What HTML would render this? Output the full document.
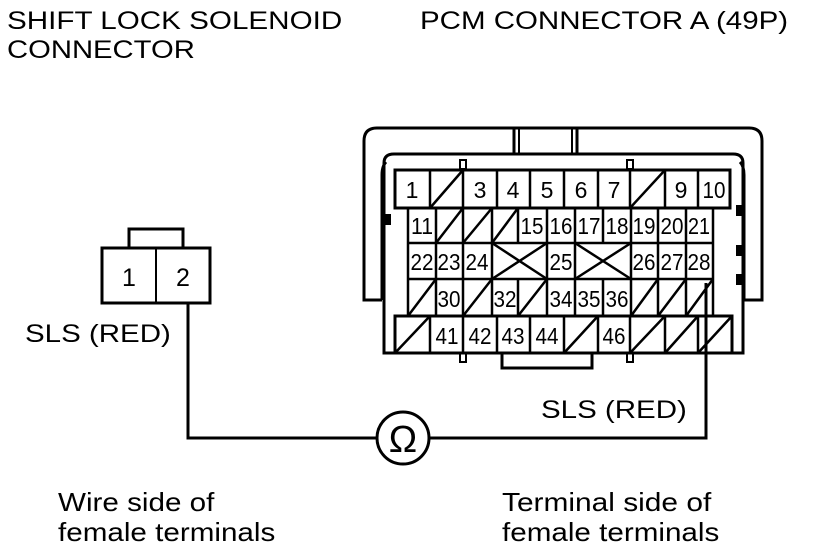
<!DOCTYPE html>
<html><head><meta charset="utf-8"><style>
html,body{margin:0;padding:0;background:#fff;}
svg{display:block;}
text{font-family:"Liberation Sans",sans-serif;fill:#000;}
.num{font-size:23px;text-anchor:middle;}
</style></head><body>
<svg width="816" height="548" viewBox="0 0 816 548" xmlns="http://www.w3.org/2000/svg">
<text transform="translate(7,29) scale(1.185,1)" style="font-size:25px">SHIFT LOCK SOLENOID</text>
<text transform="translate(7,58) scale(1.17,1)" style="font-size:25px">CONNECTOR</text>
<text transform="translate(420,29) scale(1.18,1)" style="font-size:25px">PCM CONNECTOR A (49P)</text>

<g fill="none" stroke="#000" stroke-width="3">
<rect x="129" y="229" width="54" height="19"/>
<rect x="102" y="248" width="108" height="55"/>
</g>
<line x1="156" y1="248" x2="156" y2="303" stroke="#000" stroke-width="2"/>
<text x="129" y="286" style="font-size:25px;text-anchor:middle">1</text>
<text x="183" y="286" style="font-size:25px;text-anchor:middle">2</text>
<text transform="translate(25,342) scale(1.18,1)" style="font-size:25px">SLS (RED)</text>

<g fill="none" stroke="#000" stroke-width="3">
<polyline points="188,303 188,438 377,438"/>
<polyline points="429,438 706,438 706,283"/>
<ellipse cx="403" cy="438" rx="26" ry="26"/>
</g>
<text x="403" y="452" style="font-size:38px;text-anchor:middle">Ω</text>
<text transform="translate(541,418) scale(1.18,1)" style="font-size:25px">SLS (RED)</text>

<text transform="translate(58,511) scale(1.14,1)" style="font-size:26px">Wire side of</text>
<text transform="translate(58,541) scale(1.14,1)" style="font-size:26px">female terminals</text>
<text transform="translate(502,511) scale(1.15,1)" style="font-size:26px">Terminal side of</text>
<text transform="translate(502,541) scale(1.14,1)" style="font-size:26px">female terminals</text>

<g fill="none" stroke="#000" stroke-width="3">
<path d="M382,300 H364 V141 Q364,128 377,128 H749 Q762,128 762,141 V300 H744"/>
<path d="M382,300 V175 Q382,166 386,162"/>
<path d="M744,300 V175 Q744,166 740,162"/>
<path d="M384,353 V163 Q384,154 394,154 H733 Q743,154 743,163 V353 Z"/>
<rect x="514" y="128" width="63" height="26"/>
<rect x="502" y="353" width="90" height="15"/>
</g>
<g fill="none" stroke="#000" stroke-width="2">
<line x1="519" y1="128" x2="519" y2="154"/><line x1="572" y1="128" x2="572" y2="154"/>
<rect x="460" y="160" width="6" height="9"/><rect x="627" y="160" width="6" height="9"/>
<rect x="460" y="353" width="6" height="9"/><rect x="627" y="353" width="6" height="9"/>
</g>
<g fill="#000">
<rect x="384" y="214" width="7" height="11"/>
<rect x="736" y="205" width="7" height="11"/>
<rect x="736" y="245" width="7" height="11"/>
<rect x="736" y="274" width="7" height="11"/>
</g>
<g fill="none" stroke="#000" stroke-width="2.5">
<rect x="395" y="170" width="335" height="38" stroke-width="3"/>
<path d="M430,170V208M463,170V208M497,170V208M530,170V208M564,170V208M598,170V208M630,170V208M665,170V208M698,170V208"/>
<path d="M430,208L463,170M630,208L665,170"/>
<rect x="408" y="208" width="305" height="108"/>
<path d="M408,243H713M408,279H713"/>
<path d="M436,208V316M463,208V316M492,208V316M518,208V243M547,208V316M575,208V316M603,208V243M631,208V316M658,208V316M686,208V316M518,279V316M603,279V316"/>
<path d="M436,243L463,208M463,243L492,208M492,243L518,208"/>
<path d="M492,243L547,279M492,279L547,243M575,243L631,279M575,279L631,243"/>
<path d="M408,316L436,279M463,316L492,279M518,316L547,279M631,316L658,279M658,316L686,279M686,316L713,279"/>
<rect x="395" y="316" width="337" height="37" stroke-width="3"/>
<path d="M430,316V353M463,316V353M497,316V353M530,316V353M564,316V353M598,316V353M630,316V353M665,316V353M698,316V353"/>
<path d="M395,353L430,316M564,353L598,316M630,353L665,316M665,353L698,316M698,353L732,316"/>
</g>
<g>
<text class="num" x="412" y="198">1</text><text class="num" x="480" y="198">3</text><text class="num" x="513" y="198">4</text><text class="num" x="547" y="198">5</text><text class="num" x="581" y="198">6</text><text class="num" x="614" y="198">7</text><text class="num" x="681" y="198">9</text><text class="num" x="714" y="198" textLength="23" lengthAdjust="spacingAndGlyphs">10</text>
<text class="num" x="422" y="234" textLength="22" lengthAdjust="spacingAndGlyphs">11</text><text class="num" x="532" y="234" textLength="23" lengthAdjust="spacingAndGlyphs">15</text><text class="num" x="561" y="234" textLength="23" lengthAdjust="spacingAndGlyphs">16</text><text class="num" x="589" y="234" textLength="23" lengthAdjust="spacingAndGlyphs">17</text><text class="num" x="617" y="234" textLength="23" lengthAdjust="spacingAndGlyphs">18</text><text class="num" x="644" y="234" textLength="23" lengthAdjust="spacingAndGlyphs">19</text><text class="num" x="672" y="234" textLength="23" lengthAdjust="spacingAndGlyphs">20</text><text class="num" x="699" y="234" textLength="22" lengthAdjust="spacingAndGlyphs">21</text>
<text class="num" x="422" y="270" textLength="23" lengthAdjust="spacingAndGlyphs">22</text><text class="num" x="449" y="270" textLength="23" lengthAdjust="spacingAndGlyphs">23</text><text class="num" x="477" y="270" textLength="23" lengthAdjust="spacingAndGlyphs">24</text><text class="num" x="561" y="270" textLength="23" lengthAdjust="spacingAndGlyphs">25</text><text class="num" x="644" y="270" textLength="23" lengthAdjust="spacingAndGlyphs">26</text><text class="num" x="672" y="270" textLength="23" lengthAdjust="spacingAndGlyphs">27</text><text class="num" x="699" y="270" textLength="23" lengthAdjust="spacingAndGlyphs">28</text>
<text class="num" x="449" y="307" textLength="23" lengthAdjust="spacingAndGlyphs">30</text><text class="num" x="505" y="307" textLength="23" lengthAdjust="spacingAndGlyphs">32</text><text class="num" x="561" y="307" textLength="23" lengthAdjust="spacingAndGlyphs">34</text><text class="num" x="589" y="307" textLength="23" lengthAdjust="spacingAndGlyphs">35</text><text class="num" x="617" y="307" textLength="23" lengthAdjust="spacingAndGlyphs">36</text>
<text class="num" x="447" y="344" textLength="23" lengthAdjust="spacingAndGlyphs">41</text><text class="num" x="480" y="344" textLength="23" lengthAdjust="spacingAndGlyphs">42</text><text class="num" x="513" y="344" textLength="23" lengthAdjust="spacingAndGlyphs">43</text><text class="num" x="547" y="344" textLength="23" lengthAdjust="spacingAndGlyphs">44</text><text class="num" x="614" y="344" textLength="23" lengthAdjust="spacingAndGlyphs">46</text>
</g>
</svg>
</body></html>
